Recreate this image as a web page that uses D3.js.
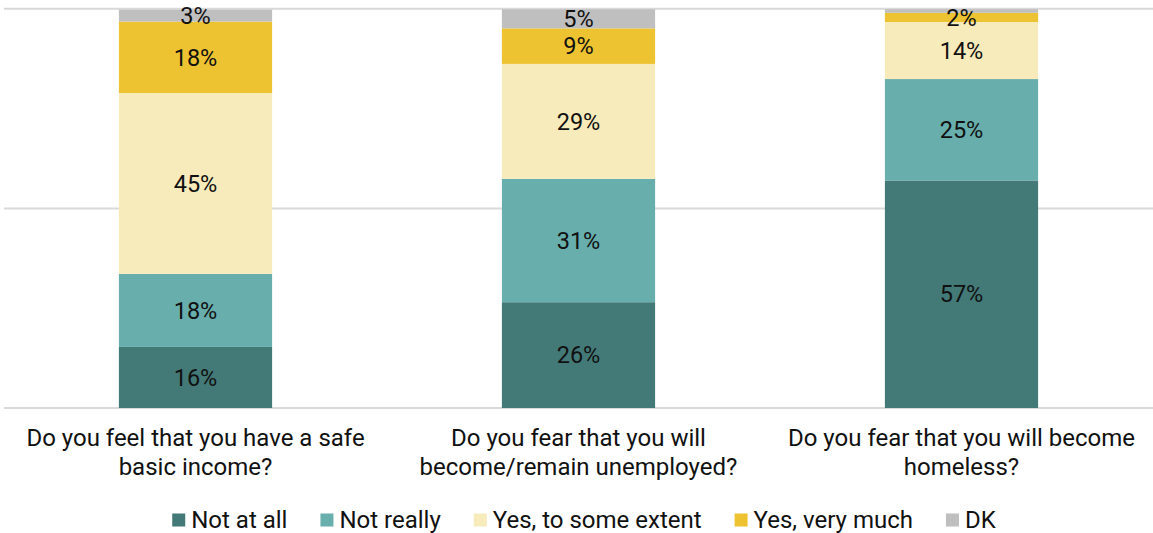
<!DOCTYPE html>
<meta charset="utf-8">
<style>
body { margin: 0; background: #fff; }
text { font-family: Roboto, sans-serif; fill: #111; }
.grid line { stroke: #d9d9d9; stroke-width: 2px; }
.label { font-size: 23.5px; text-anchor: middle; }
.cat { font-size: 24px; text-anchor: middle; }
.legend text { font-size: 24px; }
</style>
<svg width="1153" height="533"></svg>
<script src="https://d3js.org/d3.v7.min.js"></script>
<script>

var questions = [
  ["Do you feel that you have a safe", "basic income?"],
  ["Do you fear that you will", "become/remain unemployed?"],
  ["Do you fear that you will become", "homeless?"]
];
var seriesNames = ["Not at all", "Not really", "Yes, to some extent", "Yes, very much", "DK"];
var colors = ["#437a78", "#67aeac", "#f7eabb", "#edc331", "#bfbfbf"];

// shares
var notAtAll   = [15.3, 26.5, 57.0];
var notReally  = [18.3, 30.9, 25.4];
var someExtent = [45.3, 28.8, 14.3];
var veryMuch   = [17.9, 8.9, 2.3];
var dontKnow   = [3.0, 4.8, 0.9];

// printed labels (null = not shown)
var notAtAllLbl   = [16, 26, 57];
var notReallyLbl  = [18, 31, 25];
var someExtentLbl = [45, 29, 14];
var veryMuchLbl   = [18, 9, 2];
var dontKnowLbl   = [3, 5, null];

var gridTicks = [0, 50, 100];

var svg = d3.select("svg");

var seriesVals = [notAtAll, notReally, someExtent, veryMuch, dontKnow];
var seriesLbls = [notAtAllLbl, notReallyLbl, someExtentLbl, veryMuchLbl, dontKnowLbl];

var rows = questions.map(function(q, i) {
  var r = { key: i };
  seriesNames.forEach(function(s, j) { r[s] = seriesVals[j][i]; });
  return r;
});

var x = d3.scaleBand()
    .domain(d3.range(questions.length))
    .range([4, 1153])
    .paddingInner(0.6)
    .paddingOuter(0.3);

var y = d3.scaleLinear()
    .domain([0, 100])
    .range([408, 8.8]);

svg.append("g").attr("class", "grid")
  .selectAll("line")
  .data(gridTicks)
  .enter().append("line")
    .attr("x1", 4)
    .attr("x2", 1153)
    .attr("y1", function(d) { return y(d); })
    .attr("y2", function(d) { return y(d); });

var stack = d3.stack().keys(seriesNames);
var layers = stack(rows);

var layer = svg.append("g")
  .selectAll("g")
  .data(layers)
  .enter().append("g")
    .attr("fill", function(d, i) { return colors[i]; });

layer.selectAll("rect")
  .data(function(d) { return d; })
  .enter().append("rect")
    .attr("x", function(d, i) { return x(i); })
    .attr("width", x.bandwidth())
    .attr("y", function(d) { return y(d[1]); })
    .attr("height", function(d) { return y(d[0]) - y(d[1]); });

var labels = svg.append("g");
layers.forEach(function(l, j) {
  l.forEach(function(d, i) {
    var v = seriesLbls[j][i];
    if (v == null) return;
    labels.append("text")
      .attr("class", "label")
      .attr("x", x(i) + x.bandwidth() / 2)
      .attr("y", (y(d[0]) + y(d[1])) / 2)
      .attr("dy", "0.35em")
      .text(v + "%");
  });
});

var cats = svg.append("g");
questions.forEach(function(q, i) {
  var t = cats.append("text")
    .attr("class", "cat")
    .attr("x", x(i) + x.bandwidth() / 2)
    .attr("y", 446);
  q.forEach(function(line, k) {
    t.append("tspan")
      .attr("x", x(i) + x.bandwidth() / 2)
      .attr("dy", k === 0 ? 0 : 29)
      .text(line);
  });
});

// legend
var legend = svg.append("g").attr("class", "legend");
var lx = 0, box = 13, gapIn = 6, gapOut = 33;
seriesNames.forEach(function(name, i) {
  var g = legend.append("g");
  g.append("rect")
    .attr("width", box).attr("height", box)
    .attr("y", -box / 2)
    .attr("fill", colors[i]);
  var t = g.append("text")
    .attr("x", box + gapIn)
    .attr("dy", "0.35em")
    .text(name);
  var w = box + gapIn + t.node().getComputedTextLength();
  g.attr("transform", "translate(" + lx + ",0)");
  lx += w + gapOut;
});
var total = lx - gapOut;
legend.attr("transform", "translate(" + (584 - total / 2) + ",520)");

</script>
